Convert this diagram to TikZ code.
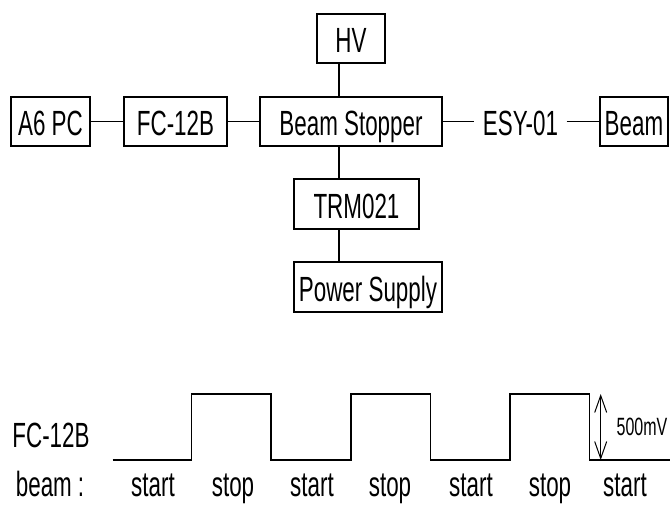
\documentclass[tikz,border=0pt]{standalone}
\usepackage{fontspec}
\setmainfont{Liberation Sans}[FakeStretch=0.64]
\usetikzlibrary{arrows.meta}
\begin{document}
\begin{tikzpicture}[x=1pt,y=-1pt, line width=1.3pt,
  bigfont/.style={font=\fontsize{35}{35}\selectfont},
  box/.style={draw, bigfont, inner sep=0pt, minimum height=49pt, text height=28pt, text depth=0pt},
  lbl/.style={bigfont, inner sep=0pt},
  wave/.style={line join=miter},
  vtip/.style={{Straight Barb[length=17pt,width=12pt]}-{Straight Barb[length=17pt,width=12pt]}}]
\useasboundingbox (0,0) rectangle (670,504);
% block diagram
\node[box, minimum width=68pt] (hv) at (351,38.5) {HV};
\node[box, minimum width=79pt] (a6) at (50.5,121.5) {A6 PC};
\node[box, minimum width=103pt] (fc) at (175.5,121.5) {FC-12B};
\node[box, minimum width=182pt] (bs) at (351,121.5) {Beam Stopper};
\node[lbl, minimum width=91pt, text height=28pt, text depth=0pt] (esy) at (520.5,121.5) {ESY-01};
\node[box, minimum width=68pt] (beam) at (634,121.5) {Beam};
\node[box, minimum width=125pt, minimum height=50pt] (trm) at (356.5,204) {TRM021};
\node[box, minimum width=148pt, minimum height=50pt] (ps) at (368,287) {Power Supply};
\coordinate (vx) at (339,0);
\draw (a6) -- (fc);
\draw (fc) -- (bs);
\draw (bs) -- (esy);
\draw (esy) -- (beam);
\draw (hv.south -| vx) -- (bs.north -| vx);
\draw (bs.south -| vx) -- (trm.north -| vx);
\draw (trm.south -| vx) -- (ps.north -| vx);
% waveform
\draw[wave] (112.7,460) -- (191.7,460) -- (191.7,394) -- (271,394) -- (271,460)
  -- (351,460) -- (351,394) -- (430.7,394) -- (430.7,460)
  -- (510,460) -- (510,394) -- (589.3,394) -- (589.3,460) -- (670,460);
\coordinate (atop) at (600.7,394);
\coordinate (abot) at (600.7,460);
\draw[vtip, line width=1pt] (atop) -- (abot);
\node[font=\fontsize{25}{25}\selectfont, anchor=west, inner sep=0pt] (mv) at (616,427) {500mV};
\node[lbl, anchor=base] (fcl) at (51,447) {FC-12B};
\node[lbl, anchor=base] (bl) at (50,496) {beam\kern6pt :};
\node[lbl, anchor=base] (s1) at (153,496) {start};
\node[lbl, anchor=base] (p1) at (233,496) {stop};
\node[lbl, anchor=base] (s2) at (312,496) {start};
\node[lbl, anchor=base] (p2) at (390,496) {stop};
\node[lbl, anchor=base] (s3) at (471,496) {start};
\node[lbl, anchor=base] (p3) at (550,496) {stop};
\node[lbl, anchor=base] (s4) at (625,496) {start};
\end{tikzpicture}
\end{document}
